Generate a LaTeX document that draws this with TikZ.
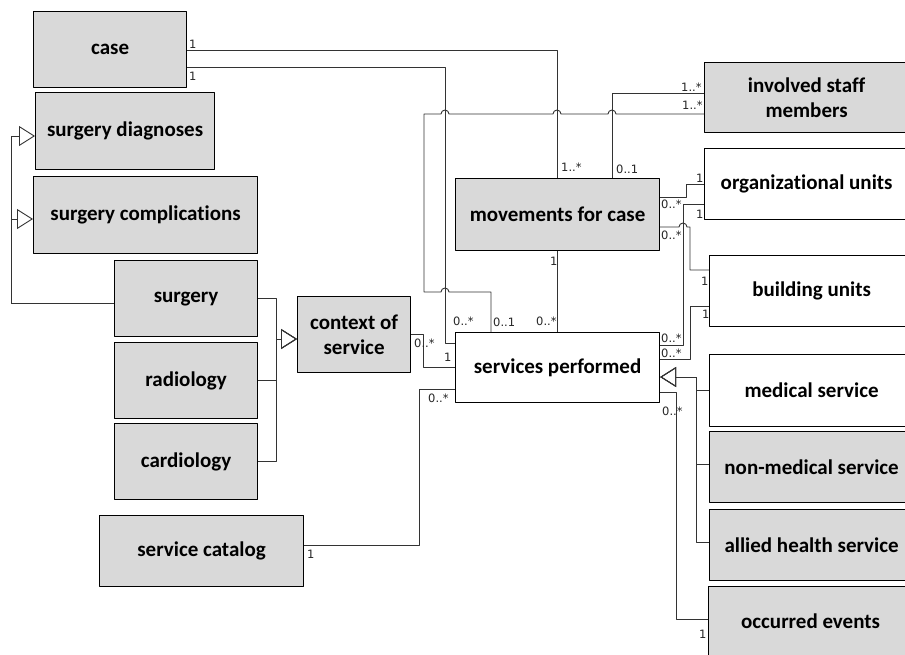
\documentclass[tikz,border=0pt]{standalone}
\usepackage{fontspec}
\setmainfont{Carlito}[Ligatures=NoCommon]
\newfontfamily\multfont{DejaVu Sans}
\usetikzlibrary{arrows.meta}
\tikzset{
  cls/.style={draw=black, line width=1.2pt, fill=gray!30, anchor=north west, inner sep=0pt,
    align=center, font=\fontsize{21}{25}\selectfont\bfseries},
  clsw/.style={cls, fill=white},
  conn/.style={draw=black!80, line width=0.9pt},
  gen/.style={conn, -{Triangle[open, length=16pt, width=20pt]}},
  mult/.style={font=\multfont\fontsize{11.5}{13}\selectfont, text=black!85, inner sep=0pt, anchor=west},
}
\begin{document}
\begin{tikzpicture}[x=1pt,y=-1pt,line join=round]
\useasboundingbox (0,0) rectangle (905,654);
\clip (0,0) rectangle (905,654);
% classes
\node[cls, minimum width=153pt, minimum height=76pt] (case) at (33,11) {case};
\node[cls, minimum width=179pt, minimum height=77pt] (diag) at (35,92) {surgery diagnoses};
\node[cls, minimum width=224pt, minimum height=77pt] (compl) at (33,176) {surgery complications};
\node[cls, minimum width=143pt, minimum height=76pt] (surgery) at (114,260) {surgery};
\node[cls, minimum width=143pt, minimum height=76pt] (radiology) at (114,342) {radiology};
\node[cls, minimum width=143pt, minimum height=76pt] (cardiology) at (114,423) {cardiology};
\node[cls, minimum width=113pt, minimum height=76pt] (context) at (297,296) {context of\\service};
\node[cls, minimum width=204pt, minimum height=71pt] (catalog) at (99,515) {service catalog};
\node[cls, minimum width=204pt, minimum height=72pt] (movements) at (455,178) {movements for case};
\node[clsw, minimum width=204pt, minimum height=70pt] (services) at (455,332) {services performed};
\node[cls, minimum width=204pt, minimum height=70pt] (staff) at (704,62) {involved staff\\members};
\node[clsw, minimum width=204pt, minimum height=71pt] (org) at (704,148) {organizational units};
\node[clsw, minimum width=204pt, minimum height=71pt] (building) at (709,255) {building units};
\node[clsw, minimum width=204pt, minimum height=72pt] (medical) at (709,354) {medical service};
\node[cls, minimum width=204pt, minimum height=71pt] (nonmed) at (709,431) {non-medical service};
\node[cls, minimum width=204pt, minimum height=71pt] (allied) at (709,509) {allied health service};
\node[cls, minimum width=204pt, minimum height=70pt] (events) at (708,586) {occurred events};
% associations
\draw[conn] (case.east |- 0,50) -| (movements.north);
\draw[conn] (case.east |- 0,67) -| (445,343) -- (services.west |- 0,343);
\draw[conn] (staff.west |- 0,93) -| (movements.north -| 612,0);
\draw[conn] (staff.west |- 0,114) -- (616,114) arc[start angle=0,end angle=180,radius=4pt]
  -- (561,114) arc[start angle=0,end angle=180,radius=4pt]
  -- (449,114) arc[start angle=0,end angle=180,radius=4pt]
  -- (424,114) -- (424,292) -- (441,292) arc[start angle=180,end angle=0,radius=4pt]
  -- (491,292) -- (services.north -| 491,0);
\draw[conn] (context.east) -| (423,367) -- (services.west |- 0,367);
\draw[conn] (catalog.east |- 0,545) -| (419,389) -- (services.west |- 0,389);
\draw[conn] (movements.south) -- (services.north);
\draw[conn] (movements.east |- 0,197) -| (686,184) -- (org.west |- 0,184);
\draw[conn] (services.east |- 0,345) -| (683,204) -- (org.west |- 0,204);
\draw[conn] (movements.east |- 0,227) -- (679,227) arc[start angle=180,end angle=0,radius=4pt]
  -- (690,227) -- (690,270) -- (building.west |- 0,270);
\draw[conn] (services.east |- 0,359) -| (690,306) -- (building.west |- 0,306);
\draw[conn] (services.east |- 0,392) -| (676,619) -- (events.west |- 0,619);
% generalizations
\draw[gen] (medical.west) -| (696,377) -- (services.east |- 0,377);
\draw[gen] (nonmed.west |- 0,464) -| (696,377) -- (services.east |- 0,377);
\draw[gen] (allied.west |- 0,542) -| (696,377) -- (services.east |- 0,377);
\draw[gen] (surgery.west |- 0,303) -| (11,136) -- (diag.west |- 0,136);
\draw[gen] (surgery.west |- 0,303) -| (11,219) -- (compl.west |- 0,219);
\draw[gen] (surgery.east) -| (276,339) -- (context.west |- 0,339);
\draw[gen] (radiology.east) -| (276,339) -- (context.west |- 0,339);
\draw[gen] (cardiology.east) -| (276,339) -- (context.west |- 0,339);
% multiplicities
\node[mult] (m1) at (189,44) {1};
\node[mult] (m2) at (189,76) {1};
\node[mult] (m3) at (681,87) {1..*};
\node[mult] (m4) at (682,105) {1..*};
\node[mult] (m5) at (561,167) {1..*};
\node[mult] (m6) at (616,169) {0..1};
\node[mult] (m7) at (661,204) {0..*};
\node[mult] (m8) at (696,178) {1};
\node[mult] (m9) at (696,214) {1};
\node[mult] (m10) at (661,235) {0..*};
\node[mult] (m11) at (550,261) {1};
\node[mult] (m12) at (701,281) {1};
\node[mult] (m13) at (702,314) {1};
\node[mult] (m14) at (661,338) {0..*};
\node[mult] (m15) at (661,353) {0..*};
\node[mult] (m16) at (453,321) {0..*};
\node[mult] (m17) at (493,322) {0..1};
\node[mult] (m18) at (536,321) {0..*};
\node[mult] (m19) at (414,343) {0..*};
\node[mult] (m20) at (444,357) {1};
\node[mult] (m21) at (428,398) {0..*};
\node[mult] (m22) at (307,554) {1};
\node[mult] (m23) at (662,411) {0..*};
\node[mult] (m24) at (699,634) {1};
\end{tikzpicture}
\end{document}
